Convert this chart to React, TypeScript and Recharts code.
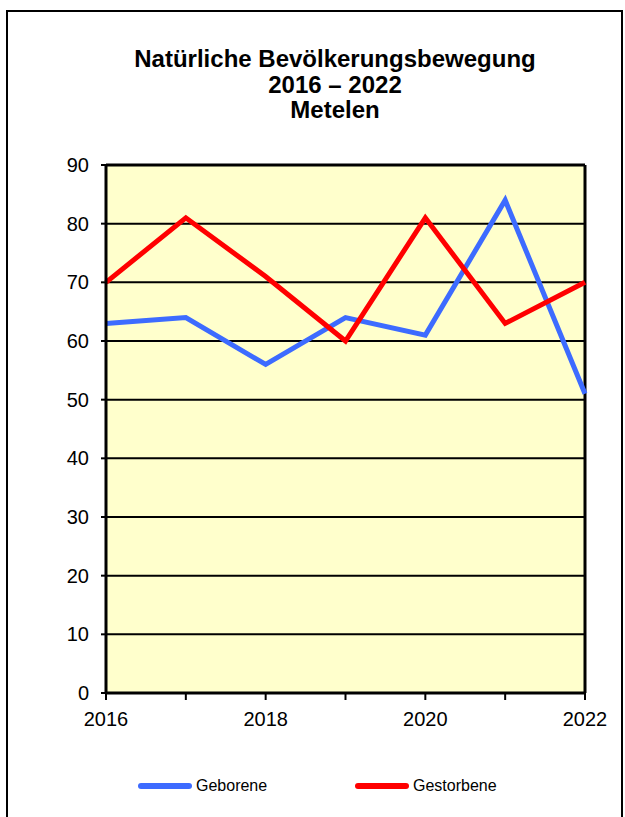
import { LineChart, Line, XAxis, YAxis, CartesianGrid, ReferenceLine } from 'recharts';

const years = [2016, 2017, 2018, 2019, 2020, 2021, 2022];
const geborene = [63, 64, 56, 64, 61, 84, 51];
const gestorbene = [70, 81, 71, 60, 81, 63, 70];
const yTicks = [0, 10, 20, 30, 40, 50, 60, 70, 80, 90];
const titleLines = ['Natürliche Bevölkerungsbewegung', '2016 – 2022', 'Metelen'];

const series = [
  { key: 'geborene', name: 'Geborene', color: '#3D6BFF' },
  { key: 'gestorbene', name: 'Gestorbene', color: '#FF0000' },
];

const data = years.map((year, i) => ({ year, geborene: geborene[i], gestorbene: gestorbene[i] }));

const FONT = '"Liberation Sans", Arial, sans-serif';

export default function App() {
  return (
    <div style={{ position: 'absolute', left: 0, top: 0, width: 625, height: 817, overflow: 'hidden', background: '#fff', fontFamily: FONT }}>
      {/* outer frame */}
      <div style={{ position: 'absolute', left: 6, top: 10, width: 613, height: 830, border: '2.5px solid #000' }} />

      {/* title */}
      <div style={{ position: 'absolute', left: 0, top: 46, width: 670, textAlign: 'center', fontWeight: 'bold', fontSize: 24, lineHeight: '25.5px', color: '#000' }}>
        {titleLines.map((t) => (
          <div key={t}>{t}</div>
        ))}
      </div>

      <div style={{ position: 'absolute', left: 0, top: 0 }}>
        <LineChart width={625} height={817} data={data} margin={{ top: 165, right: 40, bottom: 94, left: 56 }}>
          <CartesianGrid vertical={false} fill="#FFFFCC" stroke="#000" strokeWidth={2} strokeOpacity={1} />
          <XAxis
            dataKey="year"
            type="number"
            domain={[2016, 2022]}
            ticks={years}
            interval={0}
            height={30}
            tickSize={7}
            tickMargin={12}
            tickFormatter={(v) => (v % 2 === 0 ? String(v) : '')}
            axisLine={{ stroke: '#000', strokeWidth: 3 }}
            tickLine={{ stroke: '#000', strokeWidth: 2 }}
            tick={{ fill: '#000', fontSize: 20, fontFamily: FONT }}
          />
          <YAxis
            domain={[0, 90]}
            ticks={yTicks}
            interval={0}
            width={50}
            tickSize={5}
            tickMargin={12}
            axisLine={{ stroke: '#000', strokeWidth: 3 }}
            tickLine={{ stroke: '#000', strokeWidth: 2 }}
            tick={{ fill: '#000', fontSize: 20, fontFamily: FONT }}
          />
          <ReferenceLine x={2022} stroke="#000" strokeWidth={3} />
          <ReferenceLine y={90} stroke="#000" strokeWidth={3} />
          {series.map((s) => (
            <Line
              key={s.key}
              dataKey={s.key}
              name={s.name}
              stroke={s.color}
              strokeWidth={5}
              dot={false}
              activeDot={false}
              strokeLinejoin="miter"
              isAnimationActive={false}
            />
          ))}
        </LineChart>
      </div>

      {/* legend */}
      {series.map((s, i) => (
        <div key={s.key} style={{ position: 'absolute', left: 138 + i * 217, top: 776, height: 20, display: 'flex', alignItems: 'center', fontSize: 16, color: '#000' }}>
          <span style={{ display: 'inline-block', width: 54, height: 6, borderRadius: 3, background: s.color, marginRight: 4 }} />
          <span>{s.name}</span>
        </div>
      ))}
    </div>
  );
}
